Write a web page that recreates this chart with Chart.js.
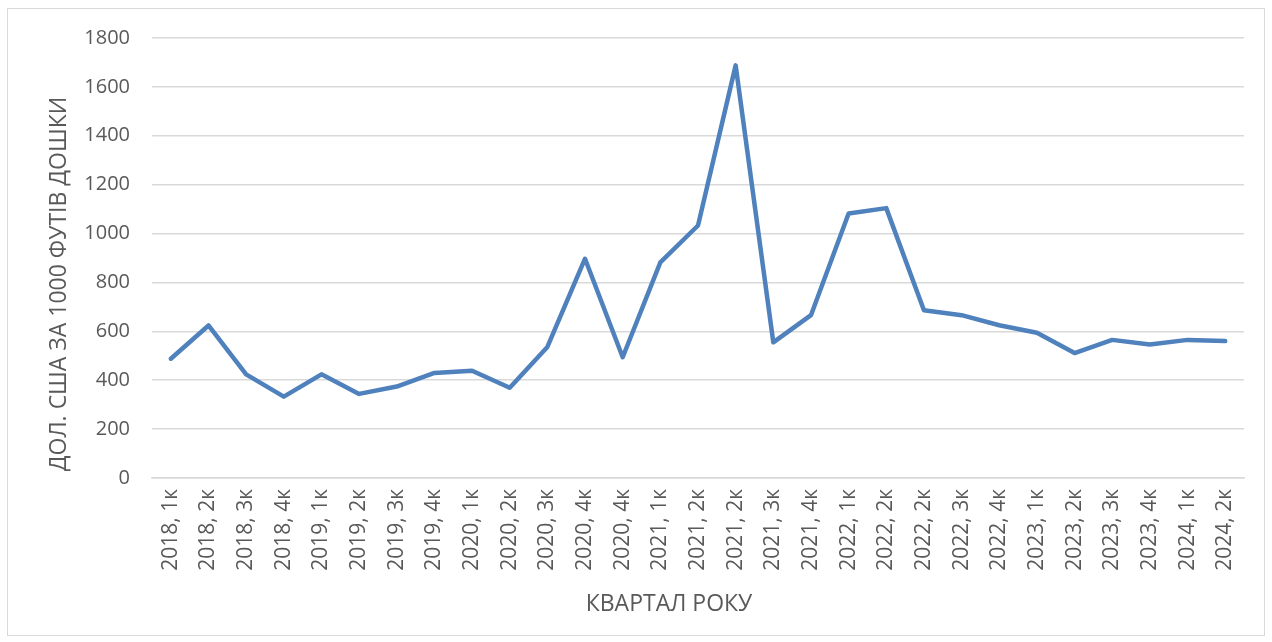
<!DOCTYPE html>
<html>
<head>
<meta charset="utf-8">
<script src="https://cdn.jsdelivr.net/npm/chart.js@4"></script>
<style>
    html, body { margin: 0; padding: 0; background: #fff; }
    #wrap { position: relative; width: 1272px; height: 642px; }
    #frame { position: absolute; left: 7px; top: 8px; width: 1256px; height: 626px; border: 1px solid #d9d9d9; }
    canvas { position: absolute; left: 0; top: 0; }
</style>
</head>
<body>
<div id="wrap">
    <div id="frame"></div>
    <canvas id="priceChart" width="1272" height="642"></canvas>
</div>
<script>
// --- DATA ---
const quarters = [
    '2018, 1к', '2018, 2к', '2018, 3к', '2018, 4к',
    '2019, 1к', '2019, 2к', '2019, 3к', '2019, 4к',
    '2020, 1к', '2020, 2к', '2020, 3к', '2020, 4к', '2020, 4к',
    '2021, 1к', '2021, 2к', '2021, 2к', '2021, 3к', '2021, 4к',
    '2022, 1к', '2022, 2к', '2022, 2к', '2022, 3к', '2022, 4к',
    '2023, 1к', '2023, 2к', '2023, 3к', '2023, 4к',
    '2024, 1к', '2024, 2к'
];

const prices = [
    488, 624, 424, 333,
    424, 344, 374, 430,
    439, 369, 536, 897, 494,
    882, 1033, 1688, 555, 666,
    1082, 1104, 686, 666, 625,
    594, 511, 565, 546,
    565, 560
];

const yTicks = [0, 200, 400, 600, 800, 1000, 1200, 1400, 1600, 1800];

const yTitle = 'ДОЛ. США ЗА 1000 ФУТІВ ДОШКИ';
const xTitle = 'КВАРТАЛ РОКУ';

// --- CHART ---
const textColor = '#595959';
const fontFamily = '"Open Sans", "Noto Sans", sans-serif';

// Axis titles, placed like Excel does (centred on the chart body, not the plot box)
const axisTitles = {
    id: 'axisTitles',
    afterDraw(chart) {
        const ctx = chart.ctx;
        ctx.save();
        ctx.fillStyle = textColor;
        ctx.font = `23px ${fontFamily}`;
        ctx.textAlign = 'center';
        ctx.textBaseline = 'middle';
        ctx.fillText(xTitle, 669, 604);
        ctx.translate(59, 284);
        ctx.rotate(-Math.PI / 2);
        ctx.fillText(yTitle, 0, 0);
        ctx.restore();
    }
};

new Chart(document.getElementById('priceChart'), {
    type: 'line',
    data: {
        labels: quarters,
        datasets: [{
            data: prices,
            borderColor: '#4f81bd',
            borderWidth: 4.5,
            pointRadius: 0,
            tension: 0,
            borderJoinStyle: 'round',
            borderCapStyle: 'round'
        }]
    },
    plugins: [axisTitles],
    options: {
        responsive: false,
        animation: false,
        layout: { padding: { left: 0, right: 28, top: 38, bottom: 0 } },
        plugins: {
            legend: { display: false },
            tooltip: { enabled: false }
        },
        scales: {
            x: {
                offset: true,
                grid: { display: false, drawTicks: false },
                border: { display: true, color: '#d9d9d9', width: 1.5 },
                ticks: {
                    color: textColor,
                    font: { family: fontFamily, size: 21 },
                    minRotation: 90,
                    maxRotation: 90,
                    autoSkip: false,
                    padding: 11
                },
                afterFit: (scale) => { scale.height = 164; }
            },
            y: {
                min: 0,
                max: 1800,
                afterBuildTicks: (scale) => {
                    scale.ticks = yTicks.map(v => ({ value: v }));
                },
                grid: { color: '#d9d9d9', lineWidth: 1.5, drawTicks: false },
                border: { display: false },
                ticks: {
                    color: textColor,
                    font: { family: fontFamily, size: 20 },
                    padding: 22,
                    callback: (v) => String(v)
                },
                afterFit: (scale) => { scale.width = 152; }
            }
        }
    }
});
</script>
</body>
</html>
